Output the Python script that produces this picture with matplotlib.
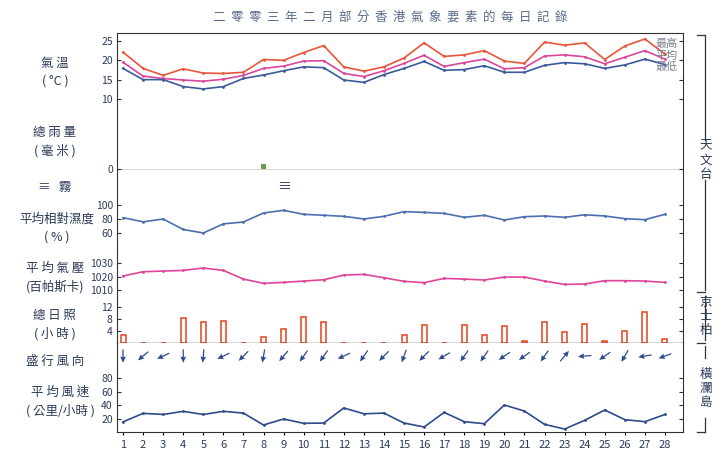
import matplotlib
matplotlib.use("Agg")
import matplotlib.pyplot as plt
import numpy as np

plt.rcParams['font.family'] = ['Noto Sans CJK TC', 'DejaVu Sans']

days = list(range(1, 29))
t_max = [22.1,17.9,16.1,17.8,16.7,16.6,16.9,20.2,20.0,22.0,23.8,18.3,17.2,18.3,20.6,24.5,21.0,21.4,22.5,19.8,19.2,24.7,23.9,24.5,20.2,23.7,25.5,21.6]
t_mean = [19.5,15.9,15.3,14.9,14.6,15.1,16.1,17.9,18.5,19.8,19.9,16.6,15.8,17.3,19.2,21.3,18.4,19.4,20.3,17.8,18.1,21.1,21.4,20.9,19.1,20.8,22.5,20.3]
t_min = [17.9,15.0,15.0,13.2,12.6,13.2,15.3,16.2,17.3,18.3,18.1,14.9,14.3,16.3,17.9,19.7,17.4,17.6,18.6,16.9,16.9,18.7,19.4,19.1,17.9,18.8,20.3,18.9]
rainfall = [0,0,0,0,0,0,0,3.6,0,0,0,0,0,0,0,0,0,0,0,0,0,0,0,0,0,0,0,0.3]
fog_days = [9]
humidity = [81.9,76,80,65,60,73,75.7,88.6,92.4,86.7,85.3,83.8,80,83.8,90.5,89.5,88,82.4,85.3,78.6,83.3,84.3,82.4,86,84.3,80.5,79,86.7]
pressure = [1020.5,1023.7,1024.2,1024.7,1026.5,1024.7,1018.2,1015.0,1015.7,1016.7,1017.7,1021.2,1021.7,1019.2,1016.5,1015.5,1018.7,1018.2,1017.5,1019.7,1019.7,1016.7,1014.2,1014.5,1017.0,1017.0,1016.7,1015.7]
sunshine = [2.5,0,0,8.4,7.0,7.3,0,2.0,4.6,8.7,7.0,0.1,0,0,2.8,6.1,0.1,6.1,2.7,5.7,0.7,7.0,3.7,6.4,0.5,3.9,10.3,1.2]
# arrow heading (degrees, math convention) of the prevailing wind arrow
wind_heading = [-90,-140,-155,-90,-95,-155,-135,-100,-130,-125,-125,-155,-125,-135,-110,-135,-150,-125,-125,-145,-145,-125,50,-175,-145,-120,-170,-160]
wind_speed = [15,27.6,26,30.6,26,30.6,28,10.4,19.3,12.8,13.3,35.6,27,28,13.3,7.4,29,15.3,12.3,40,31,11.3,4.4,17.3,32.6,18.3,15.3,26]

W, H = 722, 461
fig = plt.figure(figsize=(W/100, H/100), dpi=100)
TXT = '#2c3a5a'
XL, XR = 117, 683
xlim = (0.7, 28.9)

def ax_at(top, bottom):
    a = fig.add_axes([XL/W, 1-bottom/H, (XR-XL)/W, (bottom-top)/H])
    a.set_xlim(*xlim)
    a.patch.set_alpha(0)
    for s in ('top', 'bottom'):
        a.spines[s].set_visible(False)
    for s in ('left', 'right'):
        a.spines[s].set_color('#333')
    a.tick_params(axis='x', bottom=False, labelbottom=False)
    a.tick_params(axis='y', left=True, right=True, direction='in', length=3,
                  labelsize=7.5, labelcolor=TXT, pad=3, color='#333')
    return a

# temperature
a = ax_at(33, 100)
a.set_ylim(9.74, 27.05)
a.set_yticks([10, 15, 20, 25])
a.plot(days, t_max, color='#e8553a', lw=1.2, marker='.', ms=2)
a.plot(days, t_mean, color='#d9479a', lw=1.2, marker='.', ms=2)
a.plot(days, t_min, color='#3a5a9a', lw=1.2, marker='.', ms=2)
for lab, v in zip(['最高', '平均', '最低'], [24.2, 21.2, 18.2]):
    a.text(27.55, v, lab, fontsize=8, color='#7a8090', va='center')

# rainfall
a = ax_at(100, 170)
a.set_ylim(-0.7, 50)
a.set_yticks([0])
a.bar(days, rainfall, width=0.25, color='#6a9a4a')
a.axhline(-0.7, color='#333', lw=1)

# humidity
a = ax_at(170, 250)
a.set_ylim(35.7, 150)
a.set_yticks([60, 80, 100])
a.plot(days, humidity, color='#4a6fb0', lw=1.2, marker='.', ms=2)
for d in fog_days:
    a.text(d, 125.7, '≡', fontsize=10, ha='center', va='center', color=TXT)

# pressure
a = ax_at(250, 300)
a.set_ylim(1002.5, 1040)
a.set_yticks([1010, 1020, 1030])
a.plot(days, pressure, color='#e0449a', lw=1.2, marker='.', ms=2)

# sunshine
a = ax_at(300, 343)
a.set_ylim(0, 14.3)
a.set_yticks([4, 8, 12])
a.bar(days, sunshine, width=0.25, facecolor='white', edgecolor='#e8502a', lw=1.2)
a.axhline(0, color='#333', lw=1)

# wind direction
a = ax_at(343, 372)
a.set_ylim(0, 1)
a.set_yticks([])
ang = np.radians(wind_heading)
a.quiver(days, [0.55]*28, np.cos(ang), np.sin(ang), angles='uv', pivot='middle',
         scale=42, width=0.0022, headwidth=4.5, headlength=5, headaxislength=4.5, color='#2f4a8a')

# wind speed
a = ax_at(372, 432)
a.set_ylim(0, 88.9)
a.set_yticks([20, 40, 60, 80])
a.plot(days, wind_speed, color='#2f4a8a', lw=1.2, marker='.', ms=2)
a.spines['bottom'].set_visible(True)
a.spines['bottom'].set_color('#333')
a.set_xticks(days)
a.tick_params(axis='x', bottom=True, labelbottom=True, labelsize=8, labelcolor=TXT, length=2)

# top border
fig.add_artist(plt.Line2D([XL/W, XR/W], [1-33/H, 1-33/H], color='#333', lw=0.8))

def ftxt(x, y, s, color=TXT, **kw):
    fig.text(x/W, 1-y/H, s, color=color, ha='center', va='center', **kw)

ftxt(390, 17, '二  零  零  三  年  二  月  部  分  香  港  氣  象  要  素  的  每  日  記  錄', fontsize=9, color='#5a6a8a')
ftxt(55, 72, '氣 溫\n( °C )', fontsize=9, linespacing=1.5)
ftxt(55, 142, '總 雨 量\n( 毫 米 )', fontsize=9, linespacing=1.5)
ftxt(55, 187, '≡   霧', fontsize=9)
ftxt(57, 228, '平均相對濕度\n( % )', fontsize=9, linespacing=1.5)
ftxt(55, 278, '平 均 氣 壓\n(百帕斯卡)', fontsize=9, linespacing=1.5)
ftxt(55, 325, '總 日 照\n( 小 時 )', fontsize=9, linespacing=1.5)
ftxt(55, 361, '盛 行 風 向', fontsize=9)
ftxt(60, 402, '平 均 風 速\n( 公里/小時 )', fontsize=9, linespacing=1.5)

# right-side station brackets
def fline(xs, ys):
    fig.add_artist(plt.Line2D([x/W for x in xs], [1-y/H for y in ys], color='#333', lw=0.9))
fline([697, 705], [35, 35]); fline([705, 705], [35, 140])
fline([705, 705], [180, 290]); fline([697, 705], [292, 292])
fline([705, 705], [296, 340]); fline([697, 705], [343, 343])
fline([705, 705], [346, 358]); fline([705, 705], [418, 432]); fline([697, 705], [432, 432])
ftxt(706, 160, '天\n文\n台', fontsize=9, linespacing=1.1)
ftxt(706, 316, '京\n士\n柏', fontsize=9, linespacing=1.1)
ftxt(706, 388, '橫\n瀾\n島', fontsize=9, linespacing=1.1)

fig.savefig('out.png', dpi=100)
